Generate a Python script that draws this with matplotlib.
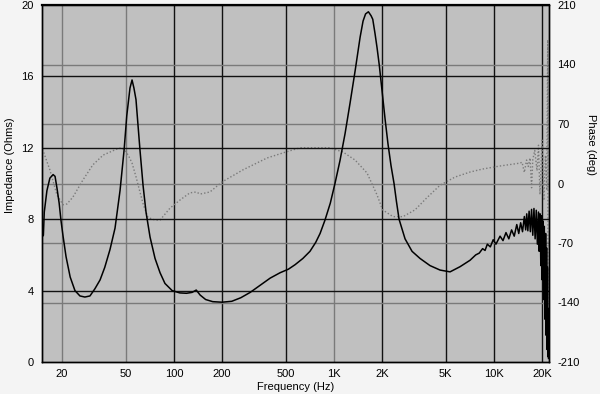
import matplotlib
matplotlib.use("Agg")
import matplotlib.pyplot as plt
from matplotlib.ticker import FixedLocator, NullLocator

# ---------------- data ----------------
imp_freq = [15.0, 15.3, 15.5, 16.1, 16.8, 17.6, 18.1, 18.6, 19.2, 19.7, 20.3, 21.2,
            22.5, 24.1, 25.9, 27.8, 29.9, 32.1, 34.6, 37.0, 39.9, 42.9, 46.1, 48.9,
            50.8, 53.2, 54.8, 56.3, 58.0, 59.7, 61.4, 64.2, 67.0, 71.0, 76.3, 82.0,
            88.0, 97.6, 109, 120, 130, 138, 146, 158, 175, 200, 230, 262, 300, 346,
            400, 461, 520, 572, 640, 709, 770, 820, 880, 950, 1016, 1093, 1175, 1262,
            1357, 1459, 1522, 1578, 1644, 1708, 1750, 1808, 1862,
            1924, 2000, 2090, 2180, 2276, 2377, 2460, 2555, 2785, 3080, 3456,
            3990, 4610, 5322, 6146, 7096, 7700, 8100, 8500, 8806, 9100, 9500, 9900,
            10300, 10930, 11400, 11900, 12400, 12900, 13400, 13900, 14300, 14700,
            15100, 15500, 15800, 16040, 16300, 16600, 16900, 17200, 17500, 17800,
            18100, 18400, 18700, 19000, 19200, 19430, 19650, 19850, 20050, 20250,
            20450, 20650, 20850, 21050, 21200, 21350, 21500, 21620, 21750, 21850,
            21950]
impedance = [7.0, 7.1, 8.4, 9.6, 10.3, 10.5, 10.4, 9.75, 8.9, 7.95, 7.06, 5.9,
             4.76, 4.0, 3.7, 3.64, 3.7, 4.1, 4.6, 5.3, 6.3, 7.5, 9.6, 11.9,
             13.8, 15.35, 15.8, 15.35, 14.7, 13.3, 11.9, 9.9, 8.4, 7.0, 5.8, 5.0,
             4.4, 4.0, 3.87, 3.85, 3.9, 4.03, 3.75, 3.5, 3.38, 3.35, 3.4, 3.6, 3.9, 4.3,
             4.7, 5.0, 5.2, 5.45, 5.8, 6.2, 6.7, 7.2, 7.95, 8.9, 10.0, 11.3, 12.8, 14.5,
             16.3, 18.2, 19.1, 19.5, 19.62, 19.4, 19.2, 18.4, 17.6,
             16.6, 15.2, 13.6, 12.2, 11.0, 10.0, 9.0, 8.0, 6.9, 6.2, 5.8,
             5.4, 5.15, 5.05, 5.34, 5.7, 6.0, 6.1, 6.35, 6.25, 6.6, 6.45, 6.85,
             6.6, 7.05, 6.8, 7.25, 6.9, 7.4, 7.05, 7.7, 7.2, 7.8,
             7.3, 8.15, 7.4, 8.3, 7.35, 8.45, 7.3, 8.55, 7.1, 8.6,
             6.9, 8.5, 6.6, 8.4, 6.2, 8.3, 5.4, 8.2, 4.6, 7.9,
             3.5, 7.6, 2.4, 7.2, 1.5, 6.4, 0.7, 5.3, 0.3, 3.0,
             0.2]

phase_freq = [15.0, 15.2, 16.8, 18.6, 20.3, 21.5, 23.4, 27.0, 31.2, 36.2, 44.1, 47.1,
              49.5, 52.0, 54.8, 58.0, 61.4, 64.5, 68.9, 76.3, 82.0, 94.6, 110, 126,
              138, 146, 168, 200, 270, 382, 500, 614, 946, 1141, 1357, 1611, 1862,
              2016, 2343, 2704, 3215, 3800, 4610, 5720, 7096, 8500, 10930, 14573,
              15000, 15500, 16000, 16400, 16825, 17200, 17500, 18000, 18600, 19000,
              19400, 20000, 20500, 21000, 21400, 21700, 21850]
phase = [40, 39, 16, -13.5, -25, -24, -16, 4, 22, 33.5, 40.6, 42,
         39, 33, 24, 8, -10, -25, -40, -43, -43, -29, -19, -11,
         -10, -12.4, -10, 1.8, 16, 30, 37, 42, 42, 37, 27.6, 12.4, -13.5,
         -31, -39, -39, -31, -17, -2, 7.6, 13.5, 17, 20.6, 24,
         25, 13, 27.6, 20, 30, -5, 28, 39,
         15, 45, -13, 51, -20, 33, -8, 169, -207]

imp_ticks = [0, 4, 8, 12, 16, 20]
phase_ticks = [-210, -140, -70, 0, 70, 140, 210]
freq_ticks = [20, 50, 100, 200, 500, 1000, 2000, 5000, 10000, 20000]
freq_labels = ["20", "50", "100", "200", "500", "1K", "2K", "5K", "10K", "20K"]
gray_vlines = [20, 50, 1000]

# ---------------- figure ----------------
plt.rcParams['font.family'] = ['Liberation Sans', 'DejaVu Sans']
fig = plt.figure(figsize=(6.0, 3.94), dpi=100, facecolor='#f4f4f4')
ax = fig.add_axes([42/600, 32/394, 507/600, 357/394])
ax2 = ax.twinx()

ax.set_zorder(2)
ax.patch.set_visible(False)
ax2.set_zorder(1)
ax2.patch.set_visible(True)
ax2.patch.set_facecolor('#c0c0c0')

xmin, xmax = 15.0, 22100
for a in (ax, ax2):
    a.set_xscale('log')
    a.set_xlim(xmin, xmax)
    a.xaxis.set_minor_locator(NullLocator())
    for s in a.spines.values():
        s.set_color('black')
        s.set_linewidth(1.0)
ax.spines['top'].set_linewidth(1.6)

ax.set_ylim(0, 20)
ax2.set_ylim(-210, 210)

# grids
for f in freq_ticks:
    col = '#7a7a7a' if f in gray_vlines else '#111111'
    ax2.axvline(f, color=col, lw=1.0, zorder=1)
for p in phase_ticks[1:-1]:
    ax2.axhline(p, color='#7a7a7a', lw=1.0, zorder=1)
for z in imp_ticks[1:-1]:
    ax.axhline(z, color='#111111', lw=1.0, zorder=1)

# curves
ax2.plot(phase_freq, phase, color='#7a7a7a', lw=1.0, ls=(0, (1, 1.5)), zorder=3)
ax.plot(imp_freq, impedance, color='black', lw=1.1, zorder=3)

# ticks
ax.xaxis.set_major_locator(FixedLocator(freq_ticks))
ax.set_xticklabels(freq_labels)
ax2.xaxis.set_major_locator(FixedLocator(freq_ticks))
ax.set_yticks(imp_ticks)
ax.set_yticklabels([str(v) for v in imp_ticks])
ax2.set_yticks(phase_ticks)
ax2.set_yticklabels([str(v) for v in phase_ticks])
ax.yaxis.set_minor_locator(NullLocator())
ax2.yaxis.set_minor_locator(NullLocator())

ax.tick_params(axis='both', length=0, labelsize=8, colors='black', pad=6)
ax.tick_params(axis='x', pad=5)
ax2.tick_params(axis='both', length=0, labelsize=8, colors='black', pad=6)
ax2.tick_params(axis='x', labelbottom=False)

ax.set_xlabel("Frequency (Hz)", fontsize=8, labelpad=2)
fig.text(10/600, 1 - 165/394, "Impedance (Ohms)", rotation=90, fontsize=8,
         ha='center', va='center')
fig.text(591/600, 1 - 145/394, "Phase (deg)", rotation=270, fontsize=8,
         ha='center', va='center')

fig.savefig("out.png", dpi=100, facecolor=fig.get_facecolor())
